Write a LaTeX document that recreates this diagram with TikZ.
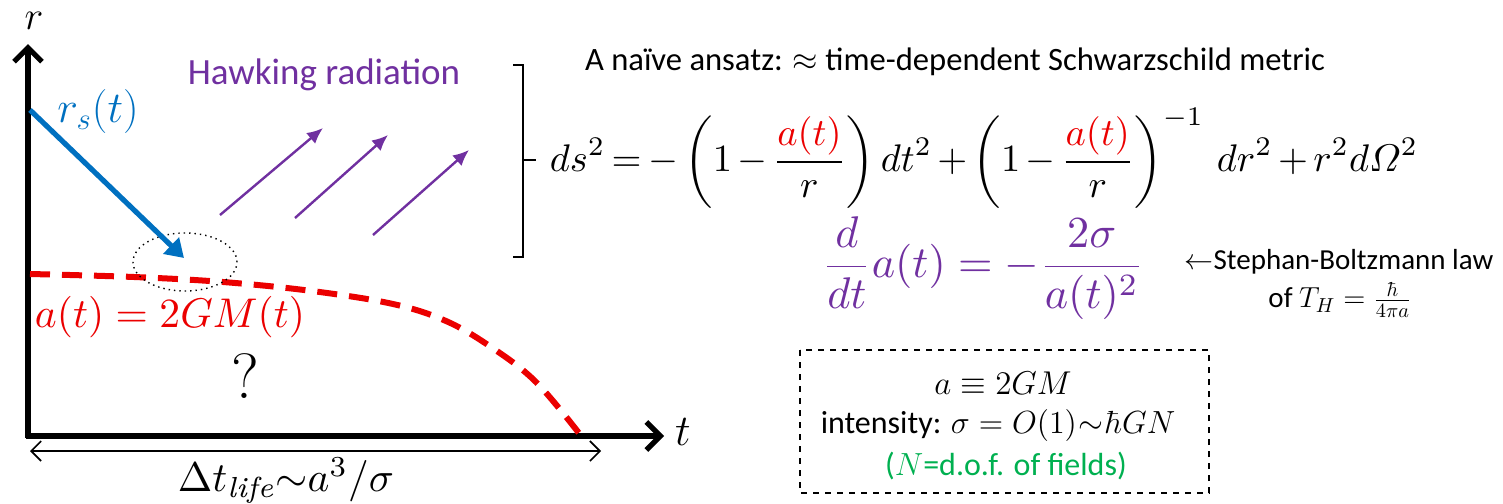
\documentclass[tikz,border=0pt]{standalone}
\usepackage{fix-cm}
\usepackage{amsmath,amssymb}
\usepackage{fontspec}
\newfontfamily\calibri{Carlito}
\usetikzlibrary{arrows.meta,calc,shapes.geometric}
\definecolor{myred}{RGB}{235,0,0}
\definecolor{myblue}{RGB}{0,112,192}
\definecolor{mypurple}{RGB}{112,48,160}
\definecolor{mygreen}{RGB}{0,176,80}
\tikzset{
  lbl/.style={inner sep=0pt, outer sep=0pt},
  axis/.style={line width=2.6pt, -{Straight Barb[length=7pt,width=14pt,line width=2.6pt]}},
  hawk/.style={mypurple, line width=1.2pt, -{Latex[length=8pt,width=7pt]}},
}
\newcommand{\fs}[1]{\fontsize{#1}{1.2\dimexpr #1pt\relax}\selectfont}
\newcommand{\tight}{\thickmuskip=3mu plus 1mu\medmuskip=2.5mu plus 1mu}
\begin{document}
\begin{tikzpicture}[x=0.5pt,y=-0.5pt]
\useasboundingbox (0,0) rectangle (1503,503);
% axes
\coordinate (O) at (28,436);
\coordinate (rtop) at (28,44);
\coordinate (ttip) at (664,436);
\draw[axis] ($(O)+(0,2)$) -- (rtop);
\draw[axis] ($(O)+(-2,0)$) -- (ttip);
\node[lbl] (rlab) at (34,21) {\fs{20}$r$};
\node[lbl] (tlab) at (683,432) {\fs{22}$t$};
% lifetime arrow
\coordinate (l1) at (30,451);
\coordinate (l2) at (601,451);
\draw[line width=0.8pt, {Straight Barb[length=5pt,width=10pt]}-{Straight Barb[length=5pt,width=10pt]}] (l1) -- (l2);
\node[lbl] (life) at (286,481) {\resizebox{108pt}{!}{$\Delta t_{\mathit{life}}{\sim}a^3/\sigma$}};
% red dashed curve
\draw[myred, line width=3pt, dash pattern=on 10pt off 6pt]
  plot[smooth, tension=0.6] coordinates {(30,274) (134,277) (223,282) (312,291) (393,304) (446,321) (491,347) (536,382) (582,437)};
\node[lbl, myred] (aeq) at (170,317) {\resizebox{135pt}{!}{$a(t)=2GM(t)$}};
\node[lbl] (q) at (245,376) {\fs{32}?};
% ellipse
\node[draw, dotted, line width=0.7pt, ellipse, minimum width=52pt, minimum height=29pt, inner sep=0pt] (ell) at (185,262) {};
% blue arrow
\coordinate (bs) at (30,110);
\coordinate (be) at (184,258);
\draw[myblue, line width=2.6pt, -{Triangle[length=9pt,width=11pt]}] (bs) -- (be);
\node[lbl, myblue] (rs) at (98,112) {\fs{22}$r_s(t)$};
% Hawking
\node[lbl, mypurple] (hawking) at (324,75) {\calibri\fs{18.5}Hawking radiation};
\coordinate (h1a) at (220,215); \coordinate (h1b) at (323,128);
\coordinate (h2a) at (295,218); \coordinate (h2b) at (388,135);
\coordinate (h3a) at (373,235); \coordinate (h3b) at (469,150);
\draw[hawk] (h1a) -- (h1b);
\draw[hawk] (h2a) -- (h2b);
\draw[hawk] (h3a) -- (h3b);
% bracket
\coordinate (bt) at (513,65);
\coordinate (bb) at (513,257);
\coordinate (bm) at (523,160);
\draw[line width=1.1pt] (bt) -- (523,65) -- (523,257) -- (bb);
\draw[line width=1.1pt] (bm) -- (536,160);
% right texts
\node[lbl] (ansatz) at (955,62) {\calibri\fs{16.3}A naïve ansatz: $\approx$ time-dependent Schwarzschild metric};
\node[lbl] (metric) at (984,158) {\resizebox{434pt}{!}{\tight$\displaystyle ds^2=-\left(1-\frac{\color{myred}a(t)}{r}\right)dt^2+\left(1-\frac{\color{myred}a(t)}{r}\right)^{-1}\;dr^2+r^2d\mathnormal{\Omega}^2$}};
\node[lbl, mypurple] (dadt) at (983,268) {\resizebox{161pt}{!}{$\displaystyle \frac{d}{dt}a(t)=-\frac{2\sigma}{a(t)^2}$}};
\node[lbl] (sb) at (1339,262) {\calibri\fs{14.5}$\leftarrow$Stephan-Boltzmann law};
\node[lbl] (th) at (1340,300) {\calibri\fs{14.5}of $T_H=\frac{\hbar}{4\pi a}$};
% box
\coordinate (box1) at (800,350);
\coordinate (box2) at (1209,493);
\draw[dashed, line width=0.9pt] (box1) rectangle (box2);
\node[lbl] (aeqv) at (1003,383) {\fs{16.5}$a\equiv 2GM$};
\node[lbl] (inten) at (998,425) {\calibri\fs{16}intensity: $\sigma=O(1)\mkern1mu{\sim}\mkern1mu\hbar GN$};
\node[lbl, mygreen] (ndof) at (1006,466) {\calibri\fs{16}($N$=d.o.f. of fields)};
\end{tikzpicture}
\end{document}
